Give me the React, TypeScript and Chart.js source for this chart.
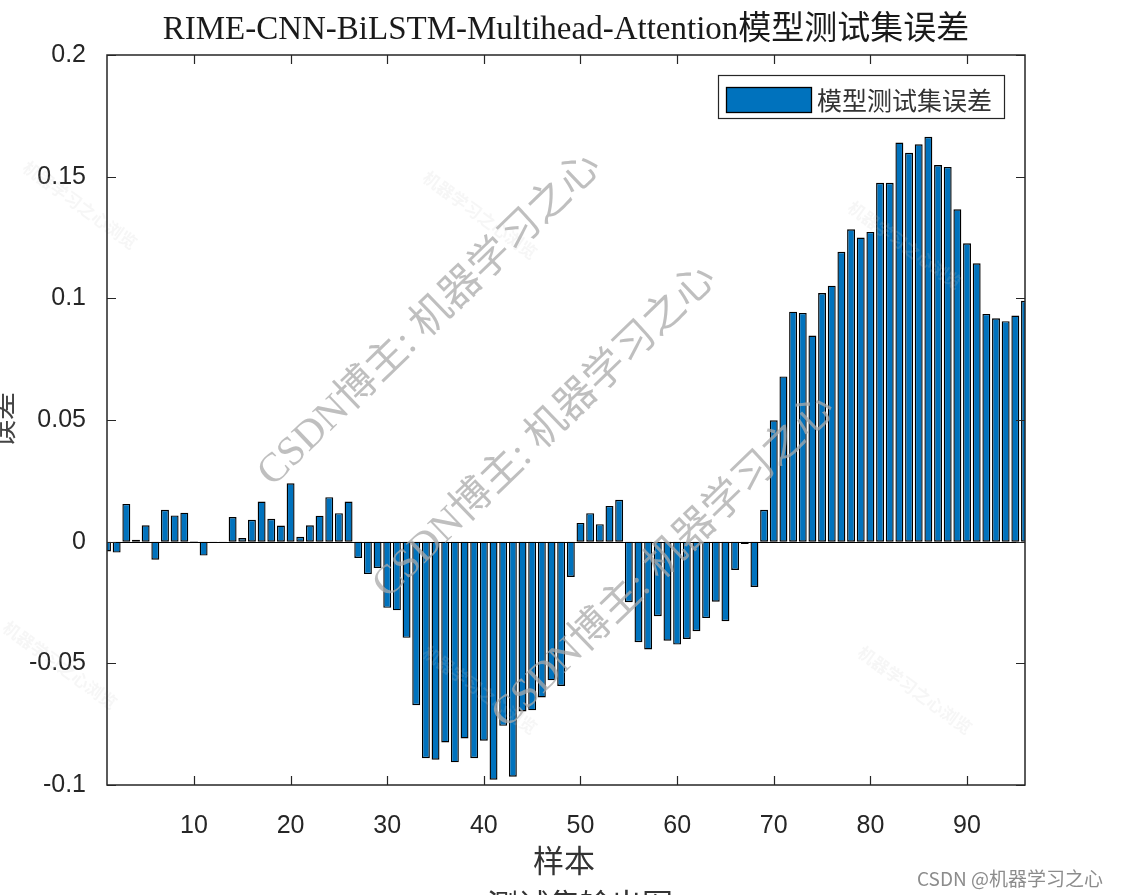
import React, { useEffect, useRef } from "react";
import { Chart, registerables } from "chart.js";

Chart.register(...registerables);

const TITLE = "RIME-CNN-BiLSTM-Multihead-Attention模型测试集误差";
const X_TITLE = "样本";
const Y_TITLE = "误差";
const SUBCAPTION = "测试集输出图";
const LEGEND_LABEL = "模型测试集误差";
const WATERMARK = "CSDN博主: 机器学习之心";
const FOOTER = "CSDN @机器学习之心";
const FAINT_MARK = "机器学习之心浏览";

const ERRORS: number[] = [
  -0.004, -0.0045, 0.0155, 0.0008, 0.0067, -0.0074, 0.0131, 0.0108, 0.0119, 0.0002,
  -0.0057, -0.0005, -0.0005, 0.0101, 0.0015, 0.009, 0.0165, 0.0094, 0.0066, 0.024,
  0.002, 0.0067, 0.0107, 0.0183, 0.0117, 0.0165, -0.0067, -0.0133, -0.0108, -0.0272,
  -0.0282, -0.0395, -0.0672, -0.089, -0.0896, -0.0825, -0.0907, -0.0809, -0.089, -0.0818,
  -0.0978, -0.0757, -0.0966, -0.0698, -0.0693, -0.064, -0.057, -0.0593, -0.0145, 0.0077,
  0.0117, 0.0072, 0.0147, 0.0172, -0.0249, -0.0413, -0.0443, -0.0306, -0.0407, -0.0423,
  -0.04, -0.0368, -0.0314, -0.0247, -0.0327, -0.0116, -0.001, -0.0186, 0.0131, 0.0499,
  0.0679, 0.0945, 0.094, 0.0847, 0.1022, 0.1052, 0.1191, 0.1284, 0.125, 0.1273,
  0.1475, 0.1475, 0.164, 0.1598, 0.1633, 0.1664, 0.1548, 0.154, 0.1366, 0.1226,
  0.1144, 0.0936, 0.0918, 0.0906, 0.0929, 0.099,
];

const X_MIN = 1;
const X_MAX = 96;
const X_TICKS = [10, 20, 30, 40, 50, 60, 70, 80, 90];
const Y_MIN = -0.1;
const Y_MAX = 0.2;
const Y_TICKS = [-0.1, -0.05, 0, 0.05, 0.1, 0.15, 0.2];
const Y_TICK_LABELS = ["-0.1", "-0.05", "0", "0.05", "0.1", "0.15", "0.2"];

const BAR_COLOR = "#0072BD";
const AXIS_COLOR = "#262626";
const SANS = "'Liberation Sans', Arial, 'Noto Sans CJK SC', sans-serif";
const SERIF = "'Liberation Serif', 'Times New Roman', 'Noto Sans CJK SC', serif";
const CJK = "'Noto Sans CJK SC', 'Liberation Sans', sans-serif";

const decorPlugin = {
  id: "decor",
  afterDatasetsDraw(chart: any) {
    const { ctx, chartArea } = chart;
    const ys = chart.scales.y;
    const y0 = ys.getPixelForValue(0);
    ctx.save();
    ctx.strokeStyle = "#000";
    ctx.lineWidth = 1;
    ctx.beginPath();
    ctx.moveTo(chartArea.left, Math.round(y0) + 0.5);
    ctx.lineTo(chartArea.right, Math.round(y0) + 0.5);
    ctx.stroke();
    ctx.restore();
  },
  afterDraw(chart: any) {
    const { ctx, chartArea } = chart;
    const { left, right, top, bottom } = chartArea;
    const xs = chart.scales.x;
    const ys = chart.scales.y;
    ctx.save();

    // faint watermarks
    ctx.fillStyle = "rgba(200,200,200,0.16)";
    ctx.font = `bold 17px ${CJK}`;
    const faint: [number, number][] = [
      [80, 205], [480, 215], [905, 245], [480, 690], [915, 690], [60, 665],
    ];
    faint.forEach(([cx, cy]) => {
      ctx.save();
      ctx.translate(cx, cy);
      ctx.rotate((36 * Math.PI) / 180);
      ctx.textAlign = "center";
      ctx.textBaseline = "middle";
      ctx.fillText(FAINT_MARK, 0, 0);
      ctx.restore();
    });

    // frame
    ctx.strokeStyle = AXIS_COLOR;
    ctx.lineWidth = 1.5;
    ctx.strokeRect(left, top, right - left, bottom - top);

    // ticks inward
    const tl = 9;
    ctx.lineWidth = 1.2;
    ctx.beginPath();
    X_TICKS.forEach((v) => {
      const px = Math.round(xs.getPixelForValue(v)) + 0.5;
      ctx.moveTo(px, bottom);
      ctx.lineTo(px, bottom - tl);
      ctx.moveTo(px, top);
      ctx.lineTo(px, top + tl);
    });
    Y_TICKS.forEach((v) => {
      const py = Math.round(ys.getPixelForValue(v)) + 0.5;
      ctx.moveTo(left, py);
      ctx.lineTo(left + tl, py);
      ctx.moveTo(right, py);
      ctx.lineTo(right - tl, py);
    });
    ctx.stroke();

    // title
    ctx.fillStyle = "#1a1a1a";
    ctx.font = `33px ${SERIF}`;
    ctx.textAlign = "center";
    ctx.textBaseline = "middle";
    ctx.fillText(TITLE, (left + right) / 2, 30);

    // x title
    ctx.fillStyle = "#333";
    ctx.font = `31px ${CJK}`;
    ctx.fillText(X_TITLE, (left + right) / 2 - 2, 860);

    // partial subcaption
    ctx.textBaseline = "top";
    ctx.font = `31px ${CJK}`;
    ctx.fillText(SUBCAPTION, 580, 889);

    // y title
    ctx.save();
    ctx.translate(2, (top + bottom) / 2);
    ctx.rotate(-Math.PI / 2);
    ctx.textBaseline = "middle";
    ctx.textAlign = "center";
    ctx.font = `28px ${CJK}`;
    ctx.fillStyle = "#444";
    ctx.fillText(Y_TITLE, 0, 0);
    ctx.restore();

    // legend
    ctx.fillStyle = "#fff";
    ctx.fillRect(718, 75, 287, 44);
    ctx.strokeStyle = AXIS_COLOR;
    ctx.lineWidth = 1.2;
    ctx.strokeRect(718.5, 75.5, 286, 43);
    ctx.fillStyle = BAR_COLOR;
    ctx.fillRect(726, 87, 86, 26);
    ctx.strokeStyle = "#000";
    ctx.lineWidth = 1.3;
    ctx.strokeRect(726.5, 87.5, 85, 25);
    ctx.fillStyle = "#333";
    ctx.font = `25px ${CJK}`;
    ctx.textAlign = "left";
    ctx.textBaseline = "middle";
    ctx.fillText(LEGEND_LABEL, 817, 100);

    // big watermarks
    ctx.fillStyle = "rgba(170,170,170,0.75)";
    ctx.font = `41px ${SERIF}`;
    ctx.textAlign = "center";
    ctx.textBaseline = "middle";
    const marks: [number, number][] = [
      [430, 320],
      [545, 432],
      [664, 562],
    ];
    marks.forEach(([cx, cy]) => {
      ctx.save();
      ctx.translate(cx, cy);
      ctx.rotate((-44 * Math.PI) / 180);
      ctx.fillText(WATERMARK, 0, 0);
      ctx.restore();
    });

    // footer
    ctx.fillStyle = "#8c8c8c";
    ctx.font = `19px ${CJK}`;
    ctx.textAlign = "left";
    ctx.textBaseline = "middle";
    ctx.fillText(FOOTER, 917, 879);

    ctx.restore();
  },
};

export default function App() {
  const ref = useRef<HTMLCanvasElement | null>(null);
  useEffect(() => {
    if (!ref.current) return;
    const data = ERRORS.map((v, i) => ({ x: X_MIN + i, y: v }));
    const chart = new Chart(ref.current, {
      type: "bar",
      data: {
        datasets: [
          {
            label: LEGEND_LABEL,
            data: data as any,
            backgroundColor: BAR_COLOR,
            borderColor: "#000",
            borderWidth: 1.4,
            borderSkipped: false,
            categoryPercentage: 1,
            barPercentage: 0.82,
          } as any,
        ],
      },
      options: {
        responsive: false,
        animation: false,
        events: [],
        layout: { padding: { left: 0, top: 55, right: 98, bottom: 50 } },
        plugins: {
          legend: { display: false },
          title: { display: false },
          tooltip: { enabled: false },
        },
        scales: {
          x: {
            type: "linear",
            min: X_MIN,
            max: X_MAX,
            offset: false,
            grid: { display: false },
            border: { display: false },
            afterBuildTicks: (s: any) => {
              s.ticks = X_TICKS.map((v) => ({ value: v }));
            },
            afterFit: (s: any) => {
              s.height = 60;
            },
            ticks: {
              autoSkip: false,
              maxRotation: 0,
              padding: 18,
              color: AXIS_COLOR,
              font: { family: SANS, size: 25 },
              callback: (v: any) => String(v),
            },
          },
          y: {
            type: "linear",
            min: Y_MIN,
            max: Y_MAX,
            grid: { display: false },
            border: { display: false },
            afterBuildTicks: (s: any) => {
              s.ticks = Y_TICKS.map((v) => ({ value: v }));
            },
            afterFit: (s: any) => {
              s.width = 107;
            },
            ticks: {
              padding: 13,
              color: AXIS_COLOR,
              font: { family: SANS, size: 25 },
              callback: (_v: any, i: number) => Y_TICK_LABELS[i],
            },
          },
        },
      },
      plugins: [decorPlugin],
    });
    return () => chart.destroy();
  }, []);
  return (
    <div style={{ position: "fixed", left: 0, top: 0, width: 1123, height: 895, background: "#fff" }}>
      <canvas ref={ref} width={1123} height={895} style={{ display: "block" }} />
    </div>
  );
}
